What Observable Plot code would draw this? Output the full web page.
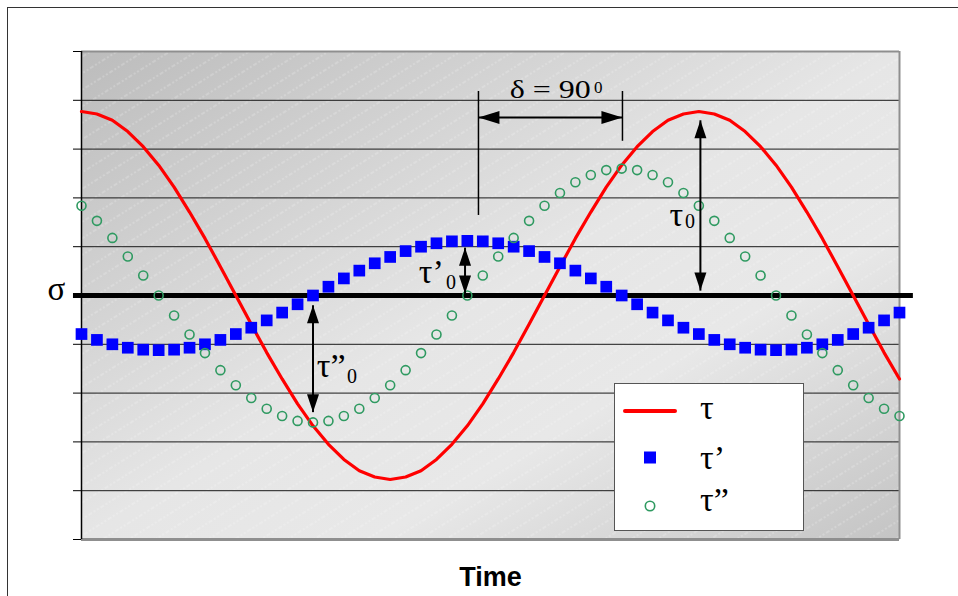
<!DOCTYPE html>
<html>
<head>
<meta charset="utf-8">
<script src="https://cdn.jsdelivr.net/npm/d3@7"></script>
<script src="https://cdn.jsdelivr.net/npm/@observablehq/plot@0.6"></script>
<style>
  html, body { margin: 0; padding: 0; background: #fff; overflow: hidden; }
  #wrap { position: relative; width: 958px; height: 596px; }
  #border { position: absolute; left: 7px; top: 7px; width: 1000px; height: 1000px; border: 1px solid #333; box-sizing: border-box; }
  #chart { position: absolute; left: 0; top: 0; }
  #legend { position: absolute; left: 614px; top: 383px; width: 190px; height: 148px; box-sizing: border-box; border: 1px solid #555; background: #fff; }
  #legend svg { position: absolute; left: 0; top: 0; }
</style>
</head>
<body>
<div id="wrap">
  <div id="border"></div>
  <div id="chart"></div>
  <div id="legend"></div>
</div>
<script>
// ---- data ----
const time = [0,1,2,3,4,5,6,7,8,9,10,11,12,13,14,15,16,17,18,19,20,21,22,23,24,25,26,27,28,29,30,31,32,33,34,35,36,37,38,39,40,41,42,43,44,45,46,47,48,49,50,51,52,53];
const tau = [3.77,3.72,3.59,3.36,3.05,2.67,2.22,1.71,1.17,0.59,0,-0.59,-1.17,-1.71,-2.22,-2.67,-3.05,-3.36,-3.59,-3.72,-3.77,-3.72,-3.59,-3.36,-3.05,-2.67,-2.22,-1.71,-1.17,-0.59,0,0.59,1.17,1.71,2.22,2.67,3.05,3.36,3.59,3.72,3.77,3.72,3.59,3.36,3.05,2.67,2.22,1.71,1.17,0.59,0,-0.59,-1.17,-1.71];
const tauPrime = [-0.79,-0.91,-1.00,-1.07,-1.11,-1.12,-1.11,-1.07,-1.00,-0.91,-0.79,-0.66,-0.51,-0.35,-0.18,0,0.18,0.35,0.51,0.66,0.79,0.91,1.00,1.07,1.11,1.12,1.11,1.07,1.00,0.91,0.79,0.66,0.51,0.35,0.18,0,-0.18,-0.35,-0.51,-0.66,-0.79,-0.91,-1.00,-1.07,-1.11,-1.12,-1.11,-1.07,-1.00,-0.91,-0.79,-0.66,-0.51,-0.35];
const tauDouble = [1.84,1.53,1.18,0.80,0.41,0,-0.41,-0.80,-1.18,-1.53,-1.84,-2.10,-2.32,-2.47,-2.57,-2.60,-2.57,-2.47,-2.32,-2.10,-1.84,-1.53,-1.18,-0.80,-0.41,0,0.41,0.80,1.18,1.53,1.84,2.10,2.32,2.47,2.57,2.60,2.57,2.47,2.32,2.10,1.84,1.53,1.18,0.80,0.41,0,-0.41,-0.80,-1.18,-1.53,-1.84,-2.10,-2.32,-2.47];
const gridValues = [-4,-3,-2,-1,1,2,3,4];
const seriesNames = ["τ", "τ’", "τ”"];

// ---- annotations (data units: x = time index, y = stress) ----
const guideLines = [
  {x: 25.72, y1: 4.18, y2: 1.64},
  {x: 35.05, y1: 4.18, y2: 3.16}
];
const shafts = [
  {x1: 25.72, y1: 3.65, x2: 35.05, y2: 3.65},
  {x1: 40.1, y1: 3.59, x2: 40.1, y2: 0.10},
  {x1: 24.85, y1: 0.98, x2: 24.85, y2: 0.04},
  {x1: 15.0, y1: -0.20, x2: 15.0, y2: -2.39}
];
const headsUp = [{x: 40.1, y: 3.59}, {x: 24.85, y: 0.98}, {x: 15.0, y: -0.20}];
const headsDown = [{x: 40.1, y: 0.10}, {x: 24.85, y: 0.04}, {x: 15.0, y: -2.39}];
const headsLeft = [{x: 25.72, y: 3.65}];
const headsRight = [{x: 35.05, y: 3.65}];
const labels = [
  {text: "σ", x: -2.2, y: -0.10, size: 33},
  {text: "τ", x: 38.1, y: 1.434, size: 34},
  {text: "0", x: 39.1, y: 1.373, size: 20},
  {text: "τ’", x: 21.85, y: 0.266, size: 34},
  {text: "0", x: 23.62, y: 0.143, size: 20},
  {text: "τ”", x: 15.25, y: -1.68, size: 34},
  {text: "0", x: 17.2, y: -1.80, size: 20},
  {text: "0", x: 33.2, y: 4.14, size: 17}
];
const deltaLabel = [{text: "δ = 90", x: 27.75, y: 4.057}];

const rows = time.map((t, i) => ({t, tau: tau[i], tp: tauPrime[i], tpp: tauDouble[i]}));

function head(dir, len, wid) {
  return {draw(ctx) {
    const h = wid / 2;
    if (dir === "up") { ctx.moveTo(0, 0); ctx.lineTo(h, len); ctx.lineTo(-h, len); }
    if (dir === "down") { ctx.moveTo(0, 0); ctx.lineTo(h, -len); ctx.lineTo(-h, -len); }
    if (dir === "left") { ctx.moveTo(0, 0); ctx.lineTo(len, h); ctx.lineTo(len, -h); }
    if (dir === "right") { ctx.moveTo(0, 0); ctx.lineTo(-len, h); ctx.lineTo(-len, -h); }
    ctx.closePath();
  }};
}

const chart = Plot.plot({
  width: 958,
  height: 596,
  marginLeft: 81,
  marginRight: 59,
  marginTop: 51,
  marginBottom: 57,
  style: {background: "transparent", overflow: "visible", fontFamily: "'Liberation Serif', serif"},
  x: {domain: [0, 53], axis: null},
  y: {domain: [-5, 5], axis: "left", ticks: 10, tickSize: 8, tickFormat: () => "", label: null},
  marks: [
    Plot.frame({fill: "url(#bgGrad)", stroke: "none"}),
    Plot.frame({fill: "url(#hatch)", stroke: "none"}),
    Plot.ruleY(gridValues, {stroke: "#1a1a1a", strokeWidth: 1}),
    Plot.ruleY([5], {stroke: "#8f8f8f", strokeWidth: 2}),
    Plot.ruleY([-5], {stroke: "#8f8f8f", strokeWidth: 3}),
    Plot.ruleX([53], {stroke: "#8f8f8f", strokeWidth: 2}),
    Plot.ruleX([0], {stroke: "#000", strokeWidth: 1.5}),
    Plot.ruleY([0], {x1: -0.52, x2: 53.9, stroke: "#000", strokeWidth: 5}),
    Plot.line(rows, {x: "t", y: "tau", stroke: "#ff0000", strokeWidth: 3.2}),
    Plot.dot(rows, {x: "t", y: "tp", symbol: "square", r: 6.6, fill: "#0000ff", stroke: "none"}),
    Plot.dot(rows, {x: "t", y: "tpp", r: 4.5, fill: "none", stroke: "#2f9a61", strokeWidth: 1.6}),
    Plot.ruleX(guideLines, {x: "x", y1: "y1", y2: "y2", stroke: "#000", strokeWidth: 1.5}),
    Plot.link(shafts, {x1: "x1", y1: "y1", x2: "x2", y2: "y2", stroke: "#000", strokeWidth: 2}),
    Plot.dot(headsUp, {x: "x", y: "y", r: 5, symbol: head("up", 18, 12), fill: "#000", stroke: "none"}),
    Plot.dot(headsDown, {x: "x", y: "y", r: 5, symbol: head("down", 18, 12), fill: "#000", stroke: "none"}),
    Plot.dot(headsLeft, {x: "x", y: "y", r: 5, symbol: head("left", 21, 13), fill: "#000", stroke: "none"}),
    Plot.dot(headsRight, {x: "x", y: "y", r: 5, symbol: head("right", 21, 13), fill: "#000", stroke: "none"}),
    Plot.text(labels, {x: "x", y: "y", text: "text", fontSize: "size", textAnchor: "start", lineAnchor: "bottom", fill: "#000"}),
    Plot.text(deltaLabel, {x: "x", y: "y", text: "text", fontSize: 26, textAnchor: "start", lineAnchor: "bottom", fill: "#000", className: "delta"}),
    Plot.text(["Time"], {frameAnchor: "bottom", dy: 38, lineAnchor: "middle", fontSize: 27, fontWeight: "bold", fontFamily: "'Liberation Sans', Arial, sans-serif", fill: "#000"})
  ]
});

// gradient + hatch definitions
const svgSel = d3.select(chart);
const defs = svgSel.insert("defs", ":first-child");
const grad = defs.append("linearGradient").attr("id", "bgGrad").attr("x1", 0).attr("y1", 0).attr("x2", 1).attr("y2", 1);
grad.append("stop").attr("offset", 0).attr("stop-color", "#bcbcbc");
grad.append("stop").attr("offset", 0.5).attr("stop-color", "#e6e6e6");
grad.append("stop").attr("offset", 0.68).attr("stop-color", "#e8e8e8");
grad.append("stop").attr("offset", 1).attr("stop-color", "#c4c4c4");
const pat = defs.append("pattern").attr("id", "hatch").attr("patternUnits", "userSpaceOnUse")
  .attr("width", 14).attr("height", 14).attr("patternTransform", "rotate(-32)");
pat.append("line").attr("x1", 0).attr("y1", 7).attr("x2", 14).attr("y2", 7)
  .attr("stroke", "#fff").attr("stroke-opacity", 0.45).attr("stroke-width", 0.8).attr("stroke-dasharray", "2 2");

// stretch delta label like the reference
svgSel.selectAll("g.delta text").attr("textLength", 81).attr("lengthAdjust", "spacingAndGlyphs");

document.getElementById("chart").appendChild(chart);

// legend
const lg = d3.select("#legend").append("svg").attr("width", 190).attr("height", 148);
lg.append("line").attr("x1", 10).attr("x2", 60).attr("y1", 27).attr("y2", 27)
  .attr("stroke", "#ff0000").attr("stroke-width", 4).attr("stroke-linecap", "round");
lg.append("rect").attr("x", 29).attr("y", 67.5).attr("width", 12).attr("height", 12).attr("fill", "#0000ff");
lg.append("circle").attr("cx", 35).attr("cy", 122).attr("r", 4.7).attr("fill", "none")
  .attr("stroke", "#2f9a61").attr("stroke-width", 1.6);
const lgY = [35, 85, 127];
lg.selectAll("text.lbl").data(seriesNames).join("text").attr("class", "lbl")
  .attr("x", 85).attr("y", (d, i) => lgY[i])
  .attr("font-family", "'Liberation Serif', serif").attr("font-size", 34).attr("fill", "#000")
  .text(d => d);
</script>
</body>
</html>
